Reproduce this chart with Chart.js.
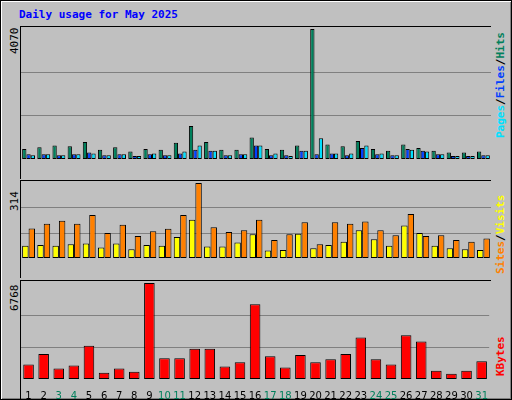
<!DOCTYPE html>
<html><head><meta charset="utf-8">
<script src="https://cdn.jsdelivr.net/npm/chart.js@4"></script>
<style>
body{margin:0;background:#fff}
#wrap{position:relative;width:512px;height:400px;background:#c0c0c0;overflow:hidden;font-family:"DejaVu Sans Mono",monospace}
#frame{position:absolute;left:0;top:0;width:512px;height:400px;box-sizing:border-box;border:1px solid #000;box-shadow:inset 1px 1px 0 #fff,inset -1px -1px 0 #808080}
.panel{position:absolute;left:20px;box-sizing:border-box;border-top:1px solid #000;border-left:1px solid #000}
canvas{display:block}
.rot{position:absolute;transform-origin:0 0;transform:rotate(-90deg);white-space:nowrap;font-size:11px;font-weight:bold}
</style></head><body>
<div id="wrap">
<div id="frame"></div>
<div style="position:absolute;left:19px;top:8px;color:#0000ff;font-weight:bold;font-size:11px">Daily usage for May 2025</div>
<div class="panel" style="top:26px"><canvas id="c1" width="470" height="152"></canvas></div>
<div class="panel" style="top:180px"><canvas id="c2" width="470" height="97"></canvas></div>
<div class="panel" style="top:280px"><canvas id="c3" width="470" height="118"></canvas></div>
<div class="rot" style="left:8px;top:54px;font-weight:normal;color:#000">4070</div>
<div class="rot" style="left:8px;top:211px;font-weight:normal;color:#000">314</div>
<div class="rot" style="left:8px;top:311px;font-weight:normal;color:#000">6768</div>
<div class="rot" style="left:494px;top:138px"><span style="color:#00e0ff">Pages</span><span style="color:#000">/</span><span style="color:#0040ff">Files</span><span style="color:#000">/</span><span style="color:#00805c">Hits</span></div>
<div class="rot" style="left:494px;top:274px"><span style="color:#ff8000">Sites</span><span style="color:#000">/</span><span style="color:#ffff00">Visits</span></div>
<div class="rot" style="left:494px;top:376px;color:#ff0000">KBytes</div>
</div>
<script>
const days=[...Array(31)].map((_,i)=>String(i+1));
const weekend=[3,4,10,11,17,18,24,25,31];
const hits=[314,369,425,397,535,286,369,231,314,286,508,1034,535,286,286,674,314,286,425,4070,452,397,563,314,258,452,341,258,203,203,231];
const files=[148,148,120,148,203,120,148,92,148,120,175,286,258,120,148,425,120,120,258,148,175,120,341,148,120,314,258,148,92,92,120];
const pages=[120,148,120,148,175,120,148,92,175,120,231,425,258,120,148,425,175,92,258,646,175,175,425,175,120,286,231,148,92,92,120];
const sites=[51,54,51,58,61,44,61,37,54,51,88,160,48,48,65,99,31,34,102,41,54,68,116,78,51,136,105,51,41,37,34];
const visits=[124,143,156,143,180,105,139,92,112,122,180,314,129,109,116,160,75,99,150,58,150,143,153,116,95,184,92,95,75,68,82];
const kbytes=[1026,1759,733,953,2345,440,733,513,6768,1466,1466,2125,2125,879,1173,5277,1612,806,1686,1173,1393,1759,2932,1393,1026,3078,2638,586,366,586,1246];
const maxes=[4070,314,6768];
Chart.defaults.animation=false;
function opts(max,showX){
 return {responsive:false,devicePixelRatio:1,layout:{padding:{top:2,right:0,left:0,bottom:0}},
  plugins:{legend:{display:false},tooltip:{enabled:false}},
  scales:{x:{display:showX,grid:{display:false},border:{display:false},
   ticks:{autoSkip:false,maxRotation:0,padding:3,font:{family:"DejaVu Sans",size:10},
    color:c=>weekend.includes(c.index+1)?'#00805c':'#000'},
   afterFit:a=>{a.height=20}},
  y:{display:true,min:0,max:max,afterFit:a=>{a.width=0},ticks:{display:false,stepSize:max/3},
   grid:{color:'#808080',drawTicks:false,lineWidth:c=>(c.tick.value>0&&c.tick.value<max)?1:0},border:{display:false}}}};
}
const bs={borderColor:'#000',borderWidth:1,borderSkipped:false};
new Chart(c1,{type:'bar',data:{labels:days,datasets:[
 {data:hits,backgroundColor:'#00805c',...bs},
 {data:files,backgroundColor:'#0040ff',...bs},
 {data:pages,backgroundColor:'#00e0ff',...bs}]},
 options:Object.assign(opts(maxes[0],false),{datasets:{bar:{categoryPercentage:0.85,barPercentage:1}}})});
new Chart(c2,{type:'bar',data:{labels:days,datasets:[
 {data:sites,backgroundColor:'#ffff00',...bs},
 {data:visits,backgroundColor:'#ff8000',...bs}]},
 options:Object.assign(opts(maxes[1],false),{datasets:{bar:{categoryPercentage:0.85,barPercentage:1}}})});
new Chart(c3,{type:'bar',data:{labels:days,datasets:[
 {data:kbytes,backgroundColor:'#ff0000',...bs}]},
 options:Object.assign(opts(maxes[2],true),{datasets:{bar:{categoryPercentage:0.7,barPercentage:1}}})});
</script>
</body></html>
